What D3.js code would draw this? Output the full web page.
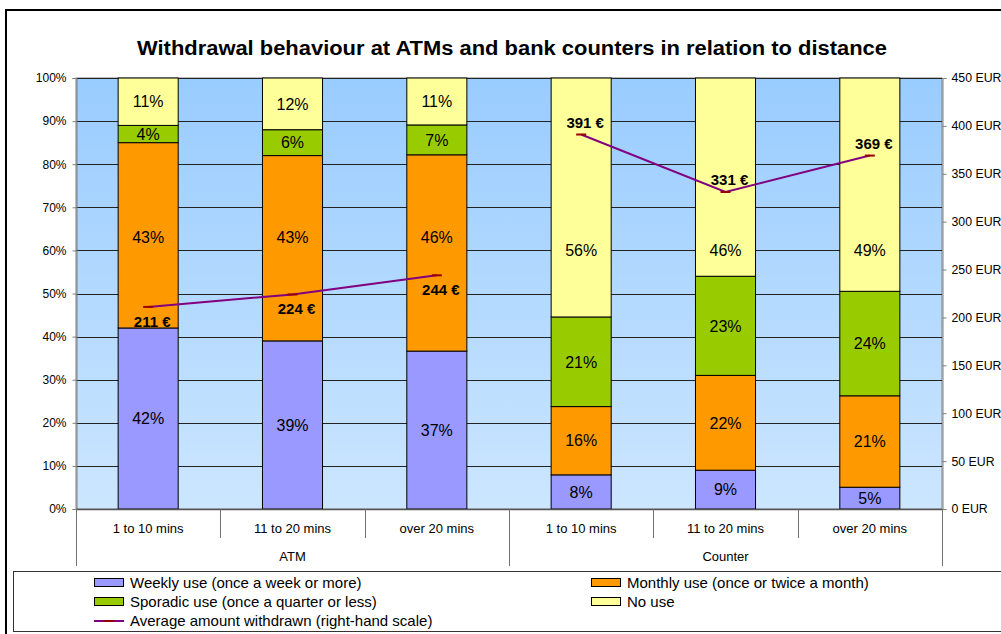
<!DOCTYPE html>
<html>
<head>
<meta charset="utf-8">
<script src="https://cdn.jsdelivr.net/npm/d3@7/dist/d3.min.js"></script>
<style>
  html, body { margin: 0; padding: 0; background: #fff; overflow: hidden; }
  svg { display: block; font-family: Arial, "Liberation Sans", sans-serif; }
</style>
</head>
<body>
<svg id="chart" width="1001" height="634"></svg>
<script>
// Categories: distance to the nearest ATM / bank counter, grouped by channel
const groups = ["ATM", "Counter"];
const distances = ["1 to 10 mins", "11 to 20 mins", "over 20 mins"];
const categories = ["ATM|1 to 10 mins", "ATM|11 to 20 mins", "ATM|over 20 mins",
                    "Counter|1 to 10 mins", "Counter|11 to 20 mins", "Counter|over 20 mins"];

// Share of respondents (%) per frequency of use
const weekly   = [42, 39, 37, 8, 9, 5];
const monthly  = [43, 43, 46, 16, 22, 21];
const sporadic = [4, 6, 7, 21, 23, 24];
const noUse    = [11, 12, 11, 56, 46, 49];

// Average amount withdrawn (EUR, right-hand scale)
const avgAmount = [211, 224, 244, 391, 331, 369];

// Tick labels
const leftTicks  = [0, 10, 20, 30, 40, 50, 60, 70, 80, 90, 100];
const rightTicks = [0, 50, 100, 150, 200, 250, 300, 350, 400, 450];

const seriesInfo = [
  { key: "weekly",   label: "Weekly use (once a week or more)",   color: "#9999FF", values: weekly },
  { key: "monthly",  label: "Monthly use (once or twice a month)", color: "#FF9900", values: monthly },
  { key: "sporadic", label: "Sporadic use (once a quarter or less)", color: "#99CC00", values: sporadic },
  { key: "noUse",    label: "No use",                              color: "#FFFF99", values: noUse }
];

// Segment labels that are lined up at a common height (share of the bar) so
// they stay clear of the average-amount line and its labels
const alignedLabelLevel = { "ATM|monthly": 0.63, "Counter|noUse": 0.60 };

const svg = d3.select("#chart");
const plot = { left: 76, right: 942, top: 78, bottom: 509 };

// Outer chart frame
svg.append("rect").attr("x", 6).attr("y", 10).attr("width", 1100).attr("height", 700)
  .attr("fill", "#fff").attr("stroke", "#000").attr("stroke-width", 2);

// Title
svg.append("text").attr("x", 512).attr("y", 55).attr("text-anchor", "middle")
  .attr("font-size", 20).attr("font-weight", "bold")
  .attr("textLength", 750).attr("lengthAdjust", "spacingAndGlyphs")
  .text("Withdrawal behaviour at ATMs and bank counters in relation to distance");

// Scales
const x = d3.scaleBand().domain(categories).range([plot.left, plot.right])
  .paddingInner(0.584).paddingOuter(0.292);
const y = d3.scaleLinear().domain([0, 1]).range([plot.bottom, plot.top]);
const yR = d3.scaleLinear().domain([0, 450]).range([plot.bottom, plot.top]);
const cx = c => x(c) + x.bandwidth() / 2;

// Plot background gradient
const defs = svg.append("defs");
const grad = defs.append("linearGradient").attr("id", "bg").attr("x1", 0).attr("y1", 0).attr("x2", 0).attr("y2", 1);
grad.append("stop").attr("offset", "0%").attr("stop-color", "#99CCFF");
grad.append("stop").attr("offset", "100%").attr("stop-color", "#CCE6FF");
svg.append("rect").attr("x", plot.left).attr("y", plot.top)
  .attr("width", plot.right - plot.left).attr("height", plot.bottom - plot.top)
  .attr("fill", "url(#bg)").attr("stroke", "#808080").attr("stroke-width", 1);

// Gridlines
svg.append("g").selectAll("line").data(leftTicks.slice(1)).join("line")
  .attr("x1", plot.left).attr("x2", plot.right)
  .attr("y1", d => Math.round(y(d / 100)) + 0.5).attr("y2", d => Math.round(y(d / 100)) + 0.5)
  .attr("stroke", "#222").attr("stroke-width", 1);

// Stacked 100% bars
const table = categories.map((c, i) => {
  const row = { cat: c };
  seriesInfo.forEach(s => row[s.key] = s.values[i]);
  return row;
});
const stack = d3.stack().keys(seriesInfo.map(s => s.key)).offset(d3.stackOffsetExpand);
const stacked = stack(table);

const labelY = (d, key) => {
  const lvl = alignedLabelLevel[d.data.cat.split("|")[0] + "|" + key];
  return lvl !== undefined ? y(lvl) : (y(d[0]) + y(d[1])) / 2;
};

stacked.forEach((layer, li) => {
  const g = svg.append("g");
  g.selectAll("rect").data(layer).join("rect")
    .attr("x", d => x(d.data.cat))
    .attr("y", d => y(d[1]))
    .attr("width", x.bandwidth())
    .attr("height", d => y(d[0]) - y(d[1]))
    .attr("fill", seriesInfo[li].color)
    .attr("stroke", "#000").attr("stroke-width", 1);
  g.selectAll("text").data(layer).join("text")
    .attr("x", d => cx(d.data.cat))
    .attr("y", d => labelY(d, layer.key))
    .attr("dy", "0.36em")
    .attr("text-anchor", "middle").attr("font-size", 16).attr("fill", "#000")
    .text(d => d.data[layer.key] + "%");
});

// Left axis
const leftAxis = d3.axisLeft(y).tickValues(leftTicks.map(d => d / 100))
  .tickFormat(d => Math.round(d * 100) + "%").tickSize(4).tickPadding(6);
const gl = svg.append("g").attr("transform", `translate(${plot.left + 0.5},0)`).call(leftAxis);
gl.selectAll("path, line").attr("stroke", "#808080");
gl.selectAll("text").attr("font-size", 12).attr("font-family", "Arial, 'Liberation Sans', sans-serif").attr("fill", "#000");

// Right axis
const rightAxis = d3.axisRight(yR).tickValues(rightTicks)
  .tickFormat(d => d + " EUR").tickSize(4).tickPadding(5);
const gr = svg.append("g").attr("transform", `translate(${plot.right + 0.5},0)`).call(rightAxis);
gr.selectAll("path, line").attr("stroke", "#808080");
gr.selectAll("text").attr("font-size", 12.3).attr("font-family", "Arial, 'Liberation Sans', sans-serif").attr("fill", "#000");

// Bottom axis line
svg.append("line").attr("x1", plot.left).attr("x2", plot.right)
  .attr("y1", plot.bottom + 0.5).attr("y2", plot.bottom + 0.5)
  .attr("stroke", "#555").attr("stroke-width", 1.5);

// Category separators and labels (two-level axis)
const step = x.step();
const seps = d3.range(categories.length + 1).map(i => ({
  x: plot.left + i * step, long: i % distances.length === 0
}));
svg.append("g").selectAll("line").data(seps).join("line")
  .attr("x1", d => Math.round(d.x) + 0.5).attr("x2", d => Math.round(d.x) + 0.5)
  .attr("y1", plot.bottom).attr("y2", d => d.long ? 566 : 538)
  .attr("stroke", "#707070").attr("stroke-width", 1);

svg.append("g").selectAll("text").data(categories).join("text")
  .attr("x", d => cx(d)).attr("y", 533).attr("text-anchor", "middle")
  .attr("font-size", 13).text(d => d.split("|")[1]);

svg.append("g").selectAll("text").data(groups).join("text")
  .attr("x", (d, i) => plot.left + step * distances.length * (i + 0.5)).attr("y", 561)
  .attr("text-anchor", "middle").attr("font-size", 13).text(d => d);

// Average amount line, one segment per channel
const lineGen = d3.line().x(d => cx(d.cat)).y(d => yR(d.v));
groups.forEach((grp, gi) => {
  const pts = categories.map((c, i) => ({ cat: c, v: avgAmount[i], g: c.split("|")[0] }))
    .filter(d => d.g === grp);
  svg.append("path").datum(pts).attr("d", lineGen)
    .attr("fill", "none").attr("stroke", "#800080").attr("stroke-width", 2);
  svg.append("g").selectAll("line").data(pts).join("line")
    .attr("x1", d => cx(d.cat) - 5).attr("x2", d => cx(d.cat) + 5)
    .attr("y1", d => yR(d.v)).attr("y2", d => yR(d.v))
    .attr("stroke", "#990000").attr("stroke-width", 2);
  svg.append("g").selectAll("text").data(pts).join("text")
    .attr("x", d => cx(d.cat) + 4)
    .attr("y", d => yR(d.v) + (gi === 0 ? 20 : -7))
    .attr("text-anchor", "middle").attr("font-size", 15).attr("font-weight", "bold")
    .text(d => d.v + " €");
});

// Legend
svg.append("rect").attr("x", 13.5).attr("y", 571.5).attr("width", 1100).attr("height", 60)
  .attr("fill", "#fff").attr("stroke", "#333").attr("stroke-width", 1);

const legendItems = [
  { type: "rect", s: seriesInfo[0], col: 0, row: 0 },
  { type: "rect", s: seriesInfo[1], col: 1, row: 0 },
  { type: "rect", s: seriesInfo[2], col: 0, row: 1 },
  { type: "rect", s: seriesInfo[3], col: 1, row: 1 },
  { type: "line", s: { label: "Average amount withdrawn (right-hand scale)", color: "#800080" }, col: 0, row: 2 }
];
const colX = [94, 591];
const lg = svg.append("g");
legendItems.forEach(it => {
  const x0 = colX[it.col], yc = 583 + it.row * 19;
  if (it.type === "rect") {
    lg.append("rect").attr("x", x0 + 0.5).attr("y", yc - 4.5).attr("width", 29).attr("height", 8)
      .attr("fill", it.s.color).attr("stroke", "#000").attr("stroke-width", 1);
  } else {
    lg.append("line").attr("x1", x0).attr("x2", x0 + 30).attr("y1", yc).attr("y2", yc)
      .attr("stroke", it.s.color).attr("stroke-width", 2);
    lg.append("line").attr("x1", x0 + 10).attr("x2", x0 + 20).attr("y1", yc).attr("y2", yc)
      .attr("stroke", "#990000").attr("stroke-width", 2);
  }
  lg.append("text").attr("x", x0 + 36).attr("y", yc).attr("dy", "0.36em")
    .attr("font-size", 15).text(it.s.label);
});
</script>
</body>
</html>
